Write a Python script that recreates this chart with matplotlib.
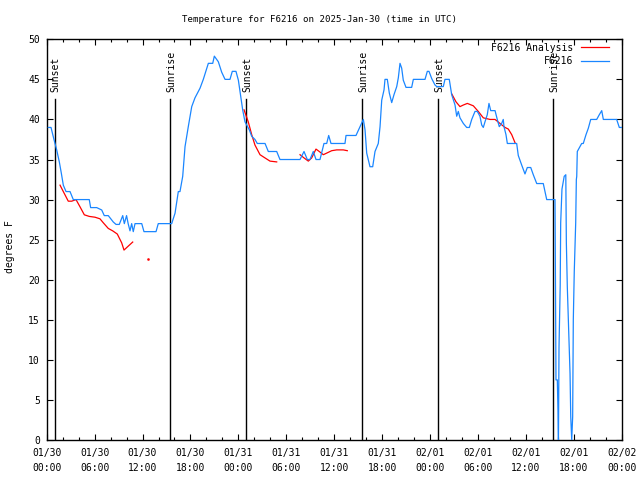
import numpy as np
import matplotlib
matplotlib.use("Agg")
import matplotlib.pyplot as plt
from matplotlib.ticker import MultipleLocator

# ---- data (hours since 2025-01-30 00:00 UTC, degrees F) ----
obs_hours = [0.2, 0.54, 0.91, 1.25, 1.58, 1.83, 2.08, 2.42, 2.92, 3.33, 5.33, 5.5, 6.26, 6.89, 7.21, 7.71,
             8.34, 8.68, 9.09, 9.52, 9.72, 10.0, 10.2, 10.43, 10.64, 10.84, 11.06, 11.9, 12.18, 12.6, 13.69,
             13.97, 15.65, 16.07, 16.48, 16.69, 17.03, 17.32, 17.73, 18.16, 18.57, 19.2, 19.61, 20.24, 20.79,
             20.99, 21.49, 21.91, 22.33, 22.95, 23.24, 23.7, 24.0, 24.2, 24.54, 24.83, 25.04, 25.37, 25.67,
             26.08, 26.37, 27.34, 27.75, 28.8, 29.21, 31.72, 32.22, 32.63, 32.97, 33.38, 33.72, 34.22, 34.72,
             35.06, 35.31, 35.6, 37.35, 37.48, 38.73, 39.32, 39.65, 39.86, 40.07, 40.48, 40.82, 41.11, 41.52,
             41.74, 41.95, 42.24, 42.36, 42.65, 42.9, 43.2, 43.49, 43.83, 44.03, 44.24, 44.45, 44.65, 44.99,
             45.7, 45.91, 47.37, 47.66, 47.87, 48.21, 48.62, 48.84, 49.66, 49.87, 50.41, 50.71, 51.13, 51.34,
             51.54, 51.75, 52.17, 52.59, 52.92, 53.22, 53.63, 53.92, 54.25, 54.47, 54.67, 54.88, 55.17, 55.38,
             55.6, 56.14, 56.42, 56.67, 56.97, 57.17, 57.26, 57.51, 57.68, 58.85, 59.05, 59.48, 59.89, 60.18,
             60.61, 60.93, 61.36, 62.18, 62.4, 62.61, 63.65, 63.69, 63.77, 63.94, 64.02, 64.08, 64.15, 64.3,
             64.36, 64.52, 64.8, 65.0, 65.07, 65.19, 65.36, 65.53, 65.62, 65.74, 65.86, 65.94, 66.06, 66.24,
             66.32, 66.37, 66.44, 66.99, 67.19, 67.53, 67.82, 68.12, 68.87, 69.2, 69.5, 69.7, 71.37, 71.7, 72.0]
obs_temps = [39.0, 39.0, 37.5, 36.2, 34.7, 33.3, 31.8, 31.0, 31.0, 30.0, 30.0, 29.0, 29.0, 28.7, 28.0, 28.0,
             27.2, 26.9, 26.9, 28.0, 27.0, 28.0, 27.0, 26.1, 27.0, 26.0, 27.0, 27.0, 26.0, 26.0, 26.0,
             27.0, 27.0, 28.3, 31.0, 31.0, 32.9, 36.6, 39.1, 41.6, 42.7, 43.9, 45.0, 47.0, 47.0,
             47.9, 47.2, 45.9, 45.0, 45.0, 46.0, 46.0, 44.9, 43.5, 41.2, 39.7, 39.3, 38.7, 37.9,
             37.5, 37.0, 37.0, 36.0, 36.0, 35.0, 35.0, 36.0, 35.0, 35.0, 36.0, 35.0, 35.0, 37.0,
             37.0, 38.0, 37.0, 37.0, 38.0, 38.0, 39.3, 40.0, 38.7, 35.8, 34.1, 34.1, 36.0, 37.0,
             39.1, 42.4, 43.7, 45.0, 45.0, 43.3, 42.1, 43.1, 44.1, 45.2, 47.0, 46.4, 44.9, 44.0,
             44.0, 45.0, 45.0, 46.0, 46.0, 45.1, 44.3, 44.1, 44.1, 45.0, 45.0, 43.1, 41.8, 40.4,
             41.0, 40.2, 39.5, 39.0, 39.0, 40.0, 41.0, 41.0, 40.4, 39.3, 39.0, 39.7, 40.6, 42.0,
             41.1, 41.1, 40.0, 39.1, 39.5, 40.0, 39.1, 38.1, 37.0, 37.0, 35.5, 34.3, 33.2, 34.0,
             34.0, 33.1, 32.0, 32.0, 31.0, 30.0, 30.0, 22.5, 7.5, 7.5, 3.7, 0.0, 11.6, 19.3,
             27.1, 31.3, 32.9, 33.1, 24.6, 19.1, 13.7, 8.3, 2.9, 0.0, 2.9, 15.0, 21.0, 27.1,
             32.5, 32.9, 36.0, 37.0, 37.0, 38.1, 38.9, 40.0, 40.0, 40.6, 41.1, 40.0, 40.0, 39.0, 39.0]

ana_hours = [1.67, 2.08, 2.7, 3.13, 3.67, 4.17, 4.71, 5.33, 6.05, 6.67, 7.09, 7.71, 8.26, 8.84, 9.39, 9.68,
             10.22, 10.77, np.nan,
             24.71, 25.24, 25.67, 26.08, 26.71, 27.33, 27.96, 28.8, np.nan,
             31.72, 32.22, 32.76, 33.18, 33.72, 34.13, 34.64, 35.06, 35.69, 36.31, 37.14, 37.64, np.nan,
             50.71, 51.25, 51.75, 52.17, 52.67, 53.42, 54.04, 54.67, 55.51, 56.14, 56.76, 57.39, 57.8,
             58.23, 58.64]
ana_temps = [31.8, 31.0, 29.8, 29.8, 30.0, 29.1, 28.1, 27.9, 27.8, 27.6, 27.1, 26.4, 26.1, 25.7, 24.6, 23.7,
             24.2, 24.7, np.nan,
             41.2, 39.7, 38.1, 36.8, 35.6, 35.2, 34.8, 34.7, np.nan,
             35.6, 35.2, 34.8, 35.2, 36.3, 36.0, 35.6, 35.8, 36.1, 36.2, 36.2, 36.1, np.nan,
             43.2, 42.2, 41.6, 41.8, 42.0, 41.7, 41.0, 40.2, 40.0, 40.0, 39.5, 39.0, 38.8,
             38.1, 37.1]
ana_dot_hours = [12.72]
ana_dot_temps = [22.6]

sun_hours = [1.0, 15.48, 25.0, 39.5, 49.04, 63.44]
sun_labels = ["Sunset", "Sunrise", "Sunset", "Sunrise", "Sunset", "Sunrise"]

tick_hours = list(range(0, 73, 6))
tick_labels = ["01/30\n00:00", "01/30\n06:00", "01/30\n12:00", "01/30\n18:00",
               "01/31\n00:00", "01/31\n06:00", "01/31\n12:00", "01/31\n18:00",
               "02/01\n00:00", "02/01\n06:00", "02/01\n12:00", "02/01\n18:00",
               "02/02\n00:00"]

title = "Temperature for F6216 on 2025-Jan-30 (time in UTC)"

# ---- style ----
FONT = "DejaVu Sans Mono"
FS = 7
plt.rcParams["font.family"] = FONT
plt.rcParams["font.size"] = FS

fig = plt.figure(figsize=(6.4, 4.8), dpi=100)
ax = fig.add_axes([46.7 / 640, 40 / 480, 575 / 640, 400.7 / 480])

ax.set_xlim(0, 72)
ax.set_ylim(0, 50)

lw = 0.9
for h, lab in zip(sun_hours, sun_labels):
    ax.plot([h, h], [0, 42.5], color="black", lw=1.0, zorder=2)
    ax.text(h + 0.1, 43.4, lab, rotation=90, ha="center", va="bottom", fontsize=FS, zorder=3)

ax.plot(ana_hours, ana_temps, color="#ff0000", lw=lw, label="F6216 Analysis", zorder=4)
ax.plot(ana_dot_hours, ana_dot_temps, color="#ff0000", marker="s", markersize=0.8, lw=0, zorder=4)
ax.plot(obs_hours, obs_temps, color="#1a86ff", lw=lw, label="F6216", zorder=4)

ax.set_xticks(tick_hours)
ax.set_xticklabels(tick_labels, linespacing=1.55)
ax.xaxis.set_minor_locator(MultipleLocator(2))
ax.yaxis.set_major_locator(MultipleLocator(5))

ax.tick_params(axis="both", which="both", direction="in", top=True, right=True, color="black")
ax.tick_params(axis="x", which="major", length=4.0, width=0.8, pad=6)
ax.tick_params(axis="x", which="minor", length=2.0, width=0.8)
ax.tick_params(axis="y", which="major", length=4.0, width=0.8, pad=5)
for s in ax.spines.values():
    s.set_linewidth(1.0)
    s.set_color("black")

fig.text(319 / 640, 1 - 20 / 480, title, ha="center", va="center", fontsize=6.6)
fig.text(10.5 / 640, 1 - 247 / 480, "degrees F", rotation=90, ha="center", va="center", fontsize=FS)

leg = ax.legend(loc="upper right", bbox_to_anchor=(0.978, 0.992), frameon=False, markerfirst=False,
                borderpad=0, borderaxespad=0, handlelength=2.9, handletextpad=0.75,
                labelspacing=0.35, fontsize=FS)

fig.savefig("out.png", dpi=100)
